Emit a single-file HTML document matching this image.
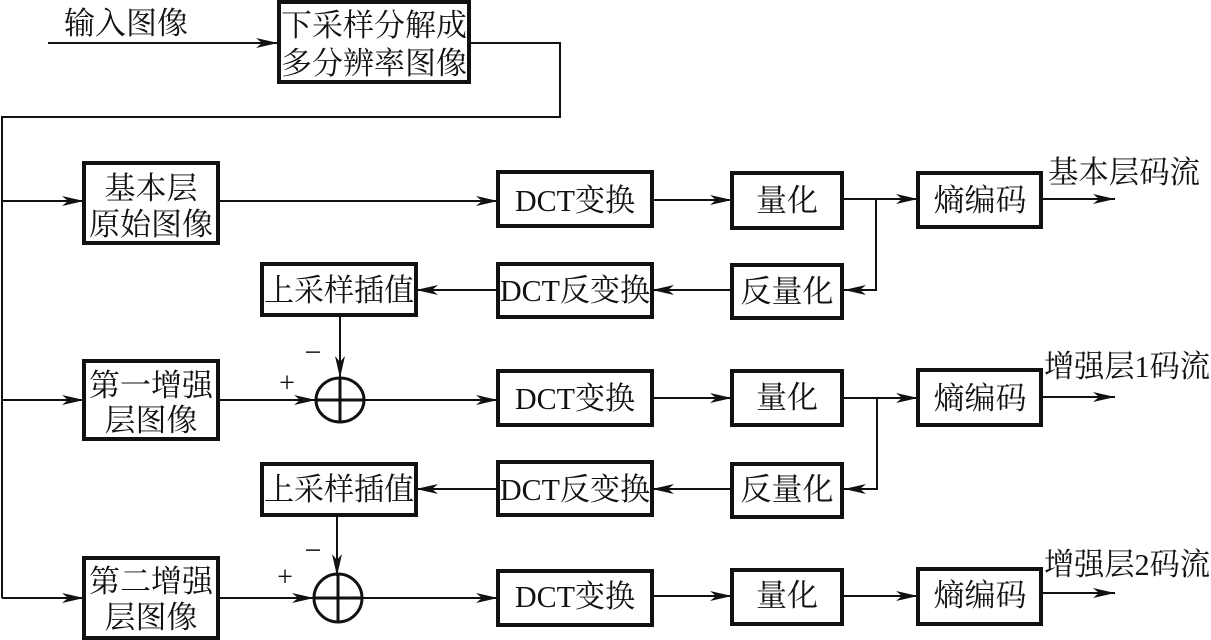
<!DOCTYPE html>
<html><head><meta charset="utf-8"><style>
html,body{margin:0;padding:0;background:#fff;}
svg{display:block;}
text{font-family:"Liberation Serif","Noto Serif CJK SC","Noto Sans CJK SC",serif;font-size:31px;fill:#111;}
</style></head><body>
<svg width="1211" height="640" viewBox="0 0 1211 640" xmlns="http://www.w3.org/2000/svg">
<defs>
<marker id="a" markerWidth="24" markerHeight="10" refX="22" refY="5" orient="auto" markerUnits="userSpaceOnUse">
<path d="M0,0 L22,5 L0,10 L6,5 Z" fill="#111"/>
</marker>
</defs>
<g stroke="#111" stroke-width="2" fill="none">
<line x1="48" y1="43" x2="278" y2="43" marker-end="url(#a)"/>
<polyline points="470,43 560,43 560,117 2,117 2,598"/>
<line x1="2" y1="201" x2="84" y2="201" marker-end="url(#a)"/>
<line x1="2" y1="400" x2="84" y2="400" marker-end="url(#a)"/>
<line x1="2" y1="598" x2="84" y2="598" marker-end="url(#a)"/>
<line x1="218" y1="201" x2="498" y2="201" marker-end="url(#a)"/>
<line x1="652" y1="200" x2="732" y2="200" marker-end="url(#a)"/>
<line x1="842" y1="199" x2="918" y2="199" marker-end="url(#a)"/>
<polyline points="876,199 876,290 844,290" marker-end="url(#a)"/>
<line x1="1041" y1="199" x2="1115" y2="199" marker-end="url(#a)"/>
<line x1="732" y1="290" x2="652" y2="290" marker-end="url(#a)"/>
<line x1="498" y1="290" x2="416" y2="290" marker-end="url(#a)"/>
<line x1="340" y1="315" x2="340" y2="378" marker-end="url(#a)"/>
<line x1="218" y1="400" x2="316" y2="400" marker-end="url(#a)"/>
<line x1="364" y1="400" x2="498" y2="400" marker-end="url(#a)"/>
<line x1="652" y1="398" x2="732" y2="398" marker-end="url(#a)"/>
<line x1="842" y1="398" x2="918" y2="398" marker-end="url(#a)"/>
<polyline points="877,398 877,489 844,489" marker-end="url(#a)"/>
<line x1="1041" y1="397" x2="1115" y2="397" marker-end="url(#a)"/>
<line x1="732" y1="489" x2="652" y2="489" marker-end="url(#a)"/>
<line x1="498" y1="489" x2="416" y2="489" marker-end="url(#a)"/>
<line x1="337" y1="515" x2="337" y2="576" marker-end="url(#a)"/>
<line x1="218" y1="598" x2="314" y2="598" marker-end="url(#a)"/>
<line x1="362" y1="598" x2="498" y2="598" marker-end="url(#a)"/>
<line x1="652" y1="596" x2="732" y2="596" marker-end="url(#a)"/>
<line x1="842" y1="596" x2="918" y2="596" marker-end="url(#a)"/>
<line x1="1041" y1="593" x2="1115" y2="593" marker-end="url(#a)"/>
</g>
<g stroke="#111" stroke-width="3" fill="none">
<ellipse cx="340" cy="400" rx="24" ry="22"/>
<line x1="316" y1="400" x2="364" y2="400"/><line x1="340" y1="378" x2="340" y2="422"/>
<ellipse cx="338" cy="598" rx="24" ry="24"/>
<line x1="314" y1="598" x2="362" y2="598"/><line x1="338" y1="574" x2="338" y2="622"/>
</g>
<g stroke="#111" stroke-width="4" fill="#fff">
<rect x="279" y="2" width="190" height="80"/>
<rect x="84" y="163" width="134" height="80"/>
<rect x="498" y="172" width="154" height="54"/>
<rect x="732" y="173" width="110" height="55"/>
<rect x="918" y="173" width="123" height="54"/>
<rect x="262" y="264" width="154" height="51"/>
<rect x="498" y="264" width="154" height="53"/>
<rect x="732" y="265" width="110" height="53"/>
<rect x="84" y="361" width="134" height="78"/>
<rect x="498" y="371" width="154" height="54"/>
<rect x="732" y="371" width="110" height="54"/>
<rect x="918" y="370" width="123" height="55"/>
<rect x="262" y="464" width="154" height="51"/>
<rect x="498" y="462" width="154" height="53"/>
<rect x="732" y="464" width="110" height="53"/>
<rect x="84" y="558" width="134" height="80"/>
<rect x="498" y="571" width="154" height="54"/>
<rect x="732" y="570" width="110" height="54"/>
<rect x="918" y="569" width="123" height="55"/>
</g>
<g text-anchor="middle">
<text x="126" y="34">输入图像</text>
<text x="374" y="36" textLength="186" lengthAdjust="spacingAndGlyphs">下采样分解成</text>
<text x="374" y="74" textLength="186" lengthAdjust="spacingAndGlyphs">多分辨率图像</text>
<text x="151" y="199">基本层</text>
<text x="151" y="235" textLength="124" lengthAdjust="spacingAndGlyphs">原始图像</text>
<text x="575" y="211" textLength="120" lengthAdjust="spacingAndGlyphs">DCT变换</text>
<text x="787" y="211">量化</text>
<text x="980" y="211">熵编码</text>
<text x="1124" y="183" textLength="152" lengthAdjust="spacingAndGlyphs">基本层码流</text>
<text x="339" y="301" textLength="150" lengthAdjust="spacingAndGlyphs">上采样插值</text>
<text x="575" y="301" textLength="150" lengthAdjust="spacingAndGlyphs">DCT反变换</text>
<text x="787" y="302">反量化</text>
<text x="151" y="396" textLength="124" lengthAdjust="spacingAndGlyphs">第一增强</text>
<text x="151" y="431">层图像</text>
<text x="575" y="409" textLength="120" lengthAdjust="spacingAndGlyphs">DCT变换</text>
<text x="787" y="408">量化</text>
<text x="980" y="409">熵编码</text>
<text x="1127" y="377" textLength="166" lengthAdjust="spacingAndGlyphs">增强层1码流</text>
<text x="339" y="500" textLength="150" lengthAdjust="spacingAndGlyphs">上采样插值</text>
<text x="575" y="500" textLength="150" lengthAdjust="spacingAndGlyphs">DCT反变换</text>
<text x="787" y="500">反量化</text>
<text x="151" y="592" textLength="124" lengthAdjust="spacingAndGlyphs">第二增强</text>
<text x="151" y="628">层图像</text>
<text x="575" y="607" textLength="120" lengthAdjust="spacingAndGlyphs">DCT变换</text>
<text x="787" y="606">量化</text>
<text x="980" y="606">熵编码</text>
<text x="1127" y="575" textLength="166" lengthAdjust="spacingAndGlyphs">增强层2码流</text>
<text x="313" y="362" style="font-size:30px">−</text>
<text x="287" y="392" style="font-size:28px">+</text>
<text x="313" y="560" style="font-size:30px">−</text>
<text x="285" y="586" style="font-size:28px">+</text>
</g>
</svg>
</body></html>
